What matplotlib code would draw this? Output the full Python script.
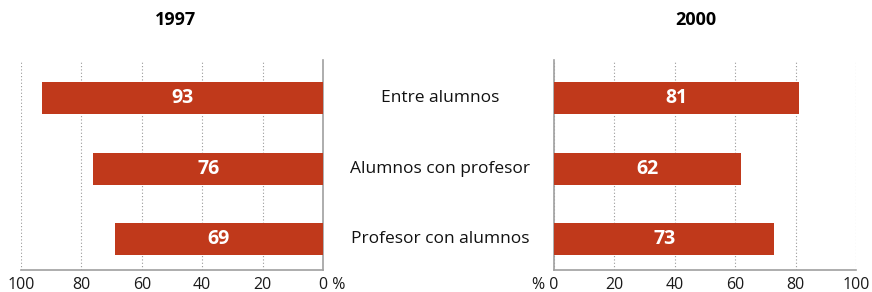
import matplotlib.pyplot as plt
from matplotlib.transforms import offset_copy

plt.rcParams['font.family'] = ['Open Sans', 'DejaVu Sans']

categorias = ['Entre alumnos', 'Alumnos con profesor', 'Profesor con alumnos']
valores_1997 = [93, 76, 69]
valores_2000 = [81, 62, 73]
ticks = [0, 20, 40, 60, 80, 100]

rojo = '#c0391b'
gris = '#a0a0a0'

fig = plt.figure(figsize=(8.72, 2.92), dpi=100)
ax1 = fig.add_axes([0.0241, 0.0753, 0.3463, 0.7192])
ax2 = fig.add_axes([0.6353, 0.0753, 0.3463, 0.7192])

y = list(range(len(categorias)))

for ax, vals in [(ax1, valores_1997), (ax2, valores_2000)]:
    ax.barh(y, vals, height=0.454, color=rojo, zorder=3)
    for yi, v in zip(y, vals):
        ax.text(v / 2, yi, str(v), color='white', fontsize=14, fontweight='bold',
                ha='center', va='center', zorder=4)
    ax.set_xlim(0, 100)
    ax.set_ylim(2.44, -0.54)
    ax.set_yticks([])
    ax.set_xticks(ticks)
    ax.set_xticklabels([''] + [str(t) for t in ticks[1:]])
    ax.tick_params(axis='x', length=0, labelsize=11.5, pad=5, colors='#1a1a1a')
    ax.grid(axis='x', linestyle=(0, (1, 2)), color='#999999', linewidth=0.8, zorder=0)
    ax.spines['top'].set_visible(False)
    for s in ['left', 'right', 'bottom']:
        ax.spines[s].set_color(gris)
        ax.spines[s].set_linewidth(1.2)

ax1.invert_xaxis()
ax1.spines['left'].set_visible(False)
ax2.spines['right'].set_visible(False)

# "0 %" and "% 0" with the zero kept on the axis line
tr1 = offset_copy(ax1.get_xaxis_transform(), fig=fig, x=-3.2, y=-5, units='points')
ax1.text(0, 0, '0 %', transform=tr1, ha='left', va='top', fontsize=11.5, color='#1a1a1a')
tr2 = offset_copy(ax2.get_xaxis_transform(), fig=fig, x=3.2, y=-5, units='points')
ax2.text(0, 0, '% 0', transform=tr2, ha='right', va='top', fontsize=11.5, color='#1a1a1a')

fig.text(0.2017, 0.93, '1997', ha='center', va='center', fontsize=13, fontweight='bold')
fig.text(0.7975, 0.93, '2000', ha='center', va='center', fontsize=13, fontweight='bold')

for yi, cat in zip(y, categorias):
    yf = ax1.transData.transform((0, yi))
    yfig = fig.transFigure.inverted().transform(yf)[1]
    fig.text(0.5046, yfig, cat, ha='center', va='center', fontsize=12.5, color='#111111')

fig.savefig('out.png', dpi=100)
